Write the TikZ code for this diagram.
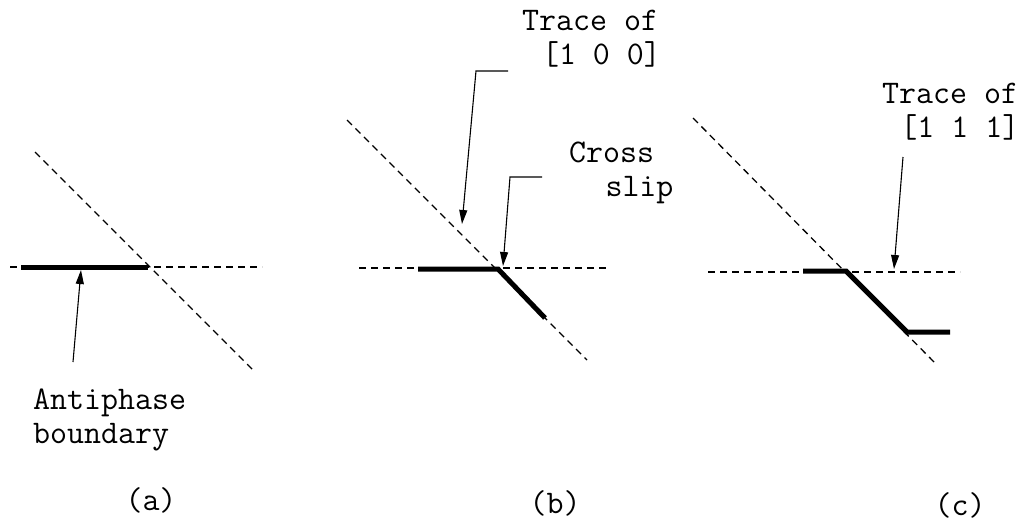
\documentclass[tikz,border=0pt]{standalone}
\usepackage{fontspec}
\usetikzlibrary{arrows.meta}
\begin{document}
\begin{tikzpicture}[x=1pt,y=-1pt,
  trace/.style={line width=1.3pt, dash pattern=on 7pt off 5pt},
  apb/.style={line width=5pt},
  lead/.style={line width=1.1pt, -{Triangle[length=14pt,width=8pt]}},
  lbl/.style={font=\ttfamily\fontsize{33}{33.5}\selectfont, inner sep=0pt, align=left},
]
\useasboundingbox[fill=white] (0,0) rectangle (1026,523);

% ---------- (a) ----------
\draw[trace] (10,267) -- (262,267);
\draw[trace] (35,152) -- (255,372);
\draw[apb] (21,267) -- (148,267);
\node[lbl, anchor=base west] (apbL) at (33,443) {Antiphase\\boundary};
\coordinate (aTail) at (73,362);
\coordinate (aTip) at (81,270);
\draw[lead] (aTail) -- (aTip);
\node[lbl] (la) at (151,500) {(a)};

% ---------- (b) ----------
\draw[trace] (359,268) -- (610,268);
\draw[trace] (347,120) -- (587,360);
\draw[apb] (418,269) -- (498,269) -- (545,318);
\node[lbl, anchor=base west] (t100) at (522,64) {Trace of\\\hspace*{0.6em}[1 0 0]};
\node[lbl, anchor=base west] (cs) at (569,196) {Cross\\\hspace*{1.1em}slip};
\coordinate (b1s) at (508,71);
\coordinate (b1k) at (476,71);
\coordinate (b1t) at (462,224);
\draw[lead] (b1s) -- (b1k) -- (b1t);
\coordinate (b2s) at (542,177);
\coordinate (b2k) at (510,177);
\coordinate (b2t) at (503,266);
\draw[lead] (b2s) -- (b2k) -- (b2t);
\node[lbl] (lb) at (555,503) {(b)};

% ---------- (c) ----------
\draw[trace] (708,272) -- (960,272);
\draw[trace] (693,118) -- (937,365);
\draw[apb] (803,271) -- (846,271) -- (907,332) -- (950,332);
\node[lbl, anchor=base west] (t111) at (882,137) {Trace of\\\hspace*{0.55em}[1 1 1]};
\coordinate (cTail) at (903,157);
\coordinate (cTip) at (894,269);
\draw[lead] (cTail) -- (cTip);
\node[lbl] (lc) at (960,505) {(c)};
\end{tikzpicture}
\end{document}
